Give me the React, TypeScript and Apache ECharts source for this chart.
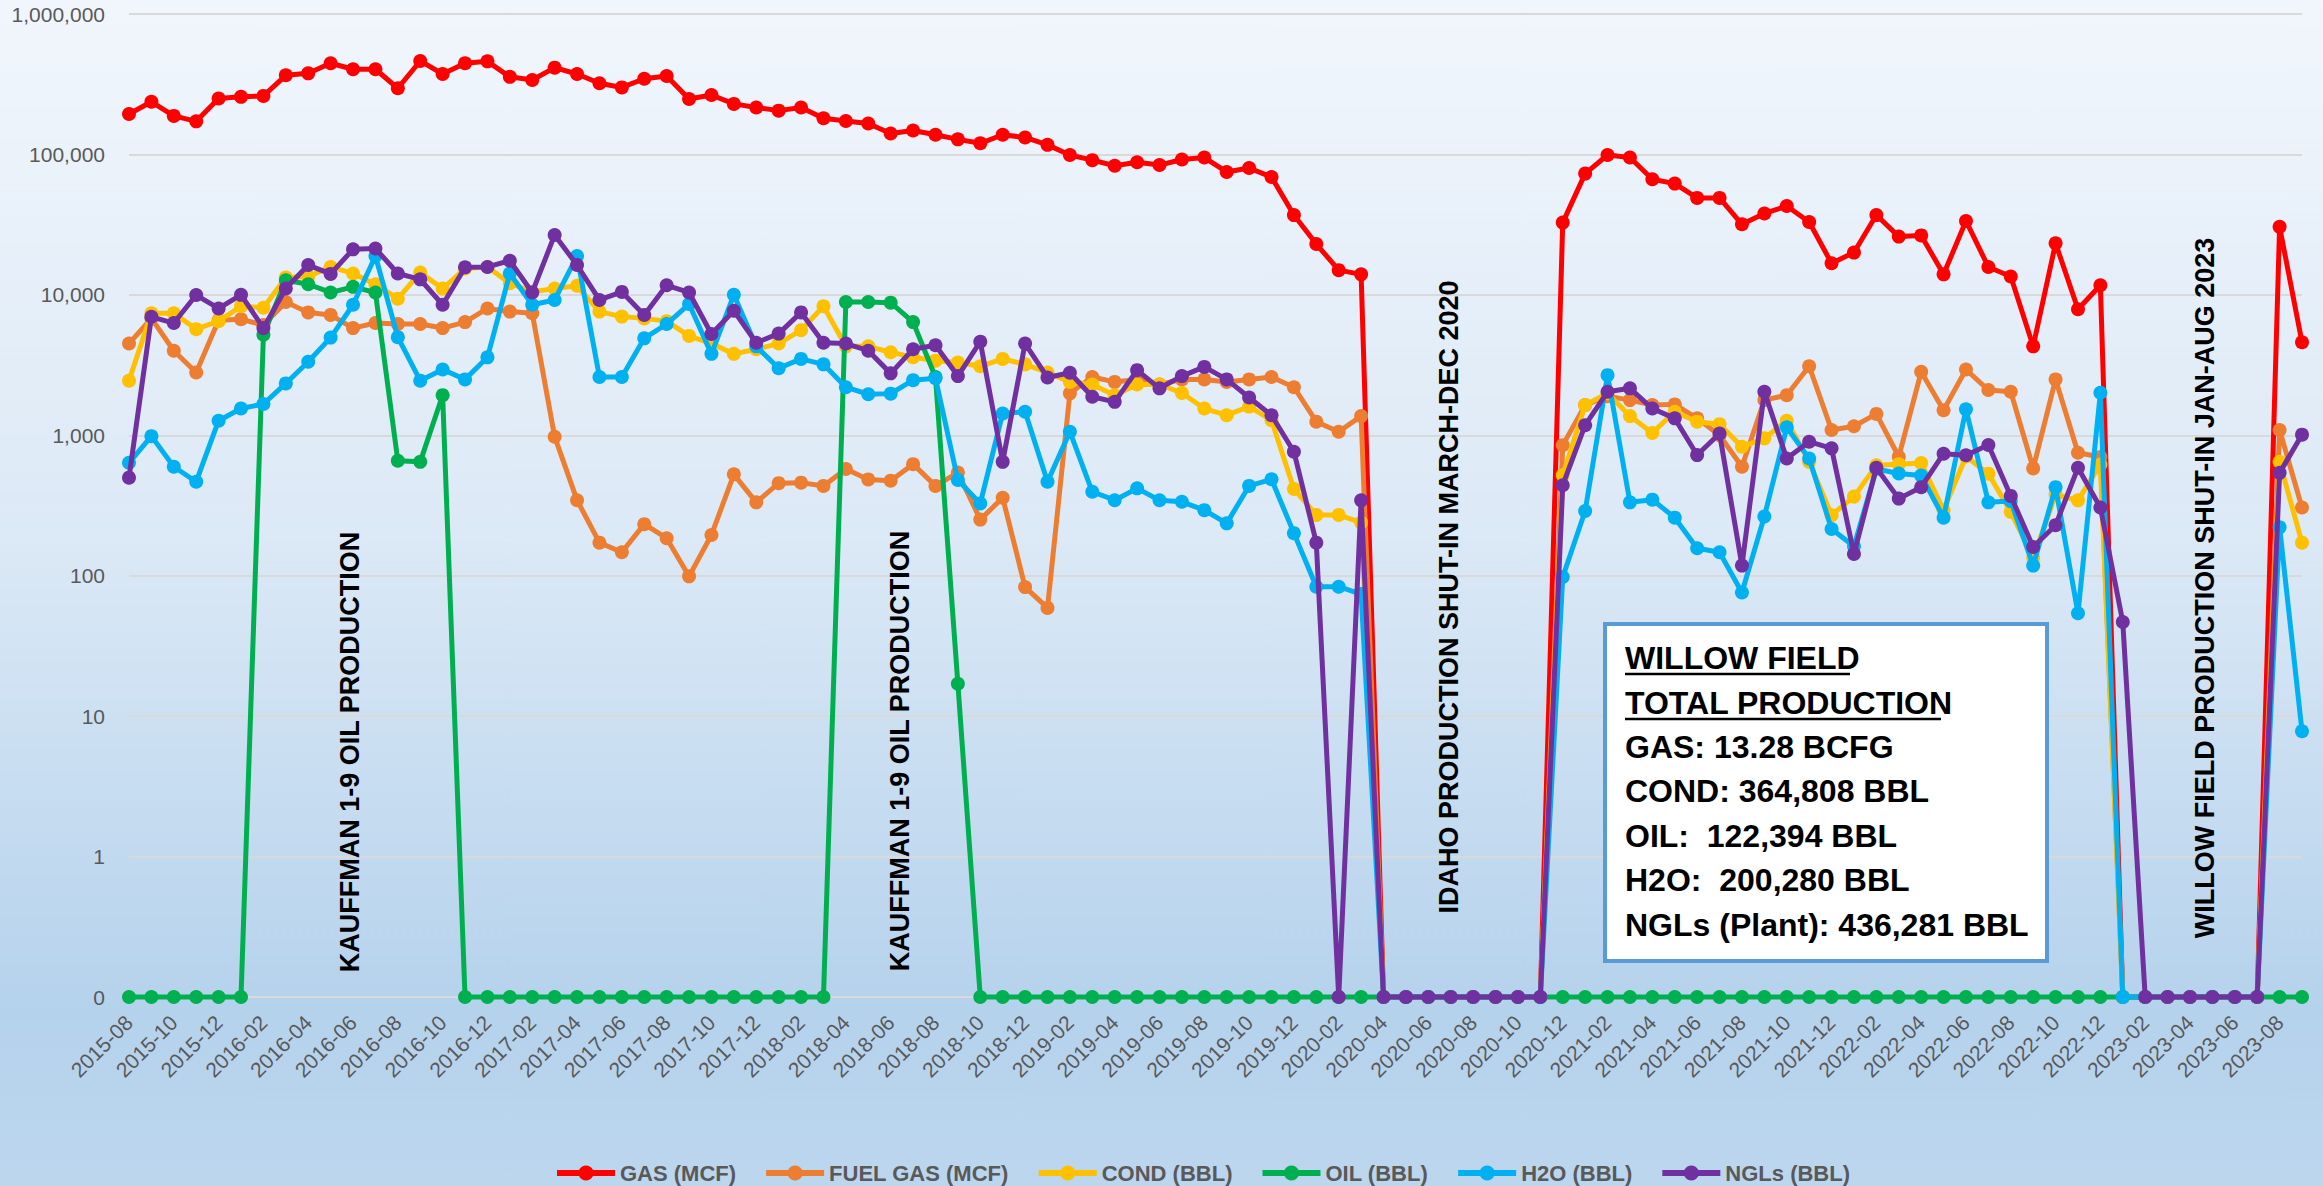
import React, { useEffect, useRef } from "react";
import * as echarts from "echarts";

const MONTHS = [
  "2015-08","2015-09","2015-10","2015-11","2015-12",
  "2016-01","2016-02","2016-03","2016-04","2016-05","2016-06","2016-07","2016-08","2016-09","2016-10","2016-11","2016-12",
  "2017-01","2017-02","2017-03","2017-04","2017-05","2017-06","2017-07","2017-08","2017-09","2017-10","2017-11","2017-12",
  "2018-01","2018-02","2018-03","2018-04","2018-05","2018-06","2018-07","2018-08","2018-09","2018-10","2018-11","2018-12",
  "2019-01","2019-02","2019-03","2019-04","2019-05","2019-06","2019-07","2019-08","2019-09","2019-10","2019-11","2019-12",
  "2020-01","2020-02","2020-03","2020-04","2020-05","2020-06","2020-07","2020-08","2020-09","2020-10","2020-11","2020-12",
  "2021-01","2021-02","2021-03","2021-04","2021-05","2021-06","2021-07","2021-08","2021-09","2021-10","2021-11","2021-12",
  "2022-01","2022-02","2022-03","2022-04","2022-05","2022-06","2022-07","2022-08","2022-09","2022-10","2022-11","2022-12",
  "2023-01","2023-02","2023-03","2023-04","2023-05","2023-06","2023-07","2023-08","2023-09",
];

const GAS = [
  194000, 237000, 188000, 172000, 250000, 257000, 261000, 366000, 378000, 446000, 404000, 404000, 296000, 463000, 374000, 446000, 460000,
  357000, 339000, 415000, 374000, 321000, 300000, 346000, 362000, 248000, 265000, 229000, 216000, 205000, 216000, 181000, 173000, 166000, 141000, 148000, 138000, 128000, 120000,
  138000, 132000, 117000, 99000, 91000, 83000, 88000, 84000, 92000, 95000, 75000, 80000, 69000, 37000, 23000, 15000, 14000,
  0, 0, 0, 0, 0, 0, 0, 0,
  32700, 73000, 99000, 95000, 66500, 62000, 49000, 49000, 31800, 38000, 42900, 33000, 16800, 20000, 37000, 26000, 26500, 14000,
  33600, 15800, 13500, 4300, 23300, 7900, 11700,
  0, 0, 0, 0, 0, 0, 0,
  30500, 4600,
];

const FUEL_GAS = [
  4500, 6800, 4000, 2800, 6600, 6700, 6100, 8900, 7500, 7200, 5800, 6300, 6200, 6200, 5800, 6400, 8000,
  7600, 7400, 977, 345, 172, 147, 233, 185, 99,
  195, 527, 333, 456, 460, 436, 575, 485, 475, 623, 436, 543, 251, 359, 83, 59,
  1990, 2600, 2400, 2500, 2300, 2500, 2500, 2400, 2500, 2600, 2200, 1250, 1060, 1370,
  0, 0, 0, 0, 0, 0, 0, 0,
  851, 1640, 1900, 1780, 1640, 1660, 1320, 1000, 597, 1780, 1930, 3100,
  1090, 1160, 1420, 703, 2830, 1510, 2940, 2100, 2040, 581, 2500, 751, 700,
  0, 0, 0, 0, 0, 0, 0,
  1090, 306,
];

const COND = [
  2450, 7400, 7400, 5700, 6500, 8300, 8100, 13300, 13500, 15800, 14200, 11900, 9400, 14400, 11100, 15400, 15800,
  12100, 10500, 11100, 11600, 7600, 7000, 6800, 6500, 5100, 4500, 3800, 4100, 4500, 5600, 8300, 4300, 4300, 3900, 3600, 3400, 3300, 3100,
  3500, 3200, 2800, 2400, 2300, 1930, 2300, 2300, 2000, 1550, 1390, 1600, 1280, 415, 271, 271, 239,
  0, 0, 0, 0, 0, 0, 0, 0,
  520, 1640, 1990, 1370, 1040, 1470, 1250, 1200, 828, 951, 1270, 647,
  270, 366, 611, 623, 635, 293, 707, 533, 285, 134, 378, 344, 620,
  0, 0, 0, 0, 0, 0, 0,
  647, 172,
];

const OIL = [
  0, 0, 0, 0, 0, 0,
  5200, 12700, 11900, 10400, 11400, 10400, 659, 647, 1930,
  0, 0, 0, 0, 0, 0, 0, 0, 0, 0, 0, 0, 0, 0, 0, 0, 0,
  8900, 8900, 8800, 6400, 2600, 17,
  0, 0, 0, 0, 0, 0, 0, 0, 0, 0, 0, 0, 0, 0, 0, 0, 0, 0, 0, 0,
  0, 0, 0, 0, 0, 0, 0, 0, 0, 0, 0, 0, 0, 0, 0, 0, 0, 0, 0, 0,
  0, 0, 0, 0, 0, 0, 0, 0, 0, 0, 0, 0, 0, 0, 0, 0, 0, 0, 0, 0,
];

const H2O = [
  637, 986, 597, 467, 1270, 1550, 1670, 2340, 3340, 4960, 8500, 18900, 5000, 2450, 2940, 2500, 3590,
  14200, 8500, 9200, 18900, 2600, 2600, 4900, 6200, 8600, 3800, 10000, 4300, 3000, 3500, 3200, 2200, 1960, 1980, 2470, 2550, 480, 327,
  1430, 1470, 467, 1060, 396, 345, 419, 345, 336, 293, 236, 436, 486, 201, 83.5, 83.5, 74,
  0, 0, 0, 0, 0, 0, 0, 0,
  98, 289, 2680, 333, 348, 259, 157, 147, 76, 264, 1140, 684,
  215, 162, 575, 534, 517, 259, 1530, 333, 340, 118, 427, 54, 2010,
  0, 0, 0, 0, 0, 0, 0,
  221, 7.8,
];

const NGLS = [
  499, 6980, 6300, 9970, 8000, 10000, 5800, 11100, 16300, 14100, 21100, 21400, 14200, 12900, 8500, 15700, 15800,
  17500, 10400, 26700, 16300, 9200, 10500, 7200, 11700, 10400, 5260, 7700, 4560, 5300, 7500, 4560, 4500, 4000, 2760, 4100, 4380, 2640, 4640,
  647, 4500, 2580, 2790, 1880, 1730, 2910, 2160, 2640, 3070, 2500, 1860, 1390, 764, 172, 0, 344,
  0, 0, 0, 0, 0, 0, 0, 0,
  441, 1180, 2040, 2160, 1550, 1320, 723, 1030, 118, 2040, 684, 900,
  807, 143, 587, 354, 427, 739, 721, 853, 370, 160, 229, 587, 306, 46.8,
  0, 0, 0, 0, 0, 0,
  540, 1010,
];

const SERIES_NAMES = ["GAS (MCF)", "FUEL GAS (MCF)", "COND (BBL)", "OIL (BBL)", "H2O (BBL)", "NGLs (BBL)"];
const SERIES_COLORS = ["#FF0000", "#ED7D31", "#FFC000", "#00B050", "#00B0F0", "#7030A0"];
const SERIES_DATA = [GAS, FUEL_GAS, COND, OIL, H2O, NGLS];

const Y_TICK_LABELS = ["0", "1", "10", "100", "1,000", "10,000", "100,000", "1,000,000"];

const INFO_LINES = [
  "WILLOW FIELD",
  "TOTAL PRODUCTION",
  "GAS: 13.28 BCFG",
  "COND: 364,808 BBL",
  "OIL:  122,394 BBL",
  "H2O:  200,280 BBL",
  "NGLs (Plant): 436,281 BBL",
];

// zero values are drawn on the bottom ("0") line of the log axis
const ZERO_FLOOR = 0.1;

const FONT = "'Liberation Sans', Arial, sans-serif";

export default function App() {
  const ref = useRef<HTMLDivElement | null>(null);

  useEffect(() => {
    if (!ref.current) return;
    const chart = echarts.init(ref.current, undefined, { renderer: "svg" });

    const series = SERIES_DATA.map((arr, k) => ({
      name: SERIES_NAMES[k],
      type: "line",
      data: arr.map((v) => (v <= 0 ? ZERO_FLOOR : v)),
      symbol: "circle",
      symbolSize: 14,
      clip: false,
      lineStyle: { width: 5, color: SERIES_COLORS[k], join: "round" },
      itemStyle: { color: SERIES_COLORS[k] },
      emphasis: { disabled: true },
      z: 2 + k,
    }));

    const rotText = (text: string, x: number, y: number) => ({
      type: "text",
      x,
      y,
      rotation: Math.PI / 2,
      z: 50,
      style: {
        text,
        x: 0,
        y: 0,
        fill: "#000000",
        font: `bold 27px ${FONT}`,
        textAlign: "center",
        textVerticalAlign: "middle",
      },
    });

    const infoY = [658, 703, 747, 791, 836, 880, 925];
    const infoTexts = INFO_LINES.map((t, i) => ({
      type: "text",
      x: 1625,
      y: infoY[i],
      z: 110,
      style: {
        text: t,
        x: 0,
        y: 0,
        fill: "#000000",
        font: `bold 32px ${FONT}`,
        textAlign: "left",
        textVerticalAlign: "middle",
      },
    }));

    const option: any = {
      animation: false,
      backgroundColor: "transparent",
      grid: { left: 129, right: 21, top: 14, bottom: 189, containLabel: false },
      xAxis: {
        type: "category",
        data: MONTHS,
        boundaryGap: false,
        axisLine: { show: false },
        axisTick: { show: false },
        splitLine: { show: false },
        axisLabel: {
          interval: 1,
          rotate: 45,
          margin: 22,
          color: "#595959",
          fontSize: 21,
          fontFamily: FONT,
        },
      },
      yAxis: {
        type: "log",
        logBase: 10,
        min: ZERO_FLOOR,
        max: 1000000,
        axisLine: { show: false },
        axisTick: { show: false },
        splitLine: { show: true, lineStyle: { color: "#D9D9D9", width: 2 } },
        axisLabel: {
          margin: 24,
          color: "#595959",
          fontSize: 21,
          fontFamily: FONT,
          formatter: (v: number) => {
            const idx = Math.round(Math.log10(v)) + 1;
            return Y_TICK_LABELS[idx] ?? "";
          },
        },
      },
      legend: {
        left: 549,
        top: 1156,
        itemWidth: 58,
        itemHeight: 19,
        itemGap: 27,
        data: SERIES_NAMES,
        lineStyle: { width: 6 },
        textStyle: {
          color: "#595959",
          fontSize: 22,
          lineHeight: 24,
          fontWeight: "bold",
          fontFamily: FONT,
        },
      },
      series,
      graphic: [
        rotText("KAUFFMAN 1-9 OIL PRODUCTION", 350, 752),
        rotText("KAUFFMAN 1-9 OIL PRODUCTION", 900, 751),
        rotText("IDAHO PRODUCTION SHUT-IN MARCH-DEC 2020", 1449, 597),
        rotText("WILLOW FIELD PRODUCTION SHUT-IN JAN-AUG 2023", 2205, 588),
        {
          type: "rect",
          z: 100,
          shape: { x: 1605, y: 624, width: 442, height: 337 },
          style: { fill: "#FFFFFF", stroke: "#5B9BD5", lineWidth: 4 },
        },
        ...infoTexts,
        {
          type: "line",
          z: 110,
          shape: { x1: 1625, y1: 674, x2: 1850, y2: 674 },
          style: { stroke: "#000000", lineWidth: 2.5 },
        },
        {
          type: "line",
          z: 110,
          shape: { x1: 1625, y1: 719, x2: 1941, y2: 719 },
          style: { stroke: "#000000", lineWidth: 2.5 },
        },
      ],
    };

    chart.setOption(option);
    return () => chart.dispose();
  }, []);

  return (
    <div
      style={{
        position: "fixed",
        left: 0,
        top: 0,
        width: 2323,
        height: 1186,
        background:
          "linear-gradient(to bottom, #F1F6FC 0%, #DCE9F6 45%, #B5D2EC 85%, #BCD6EE 100%)",
      }}
    >
      <div ref={ref} style={{ width: 2323, height: 1186 }} />
    </div>
  );
}
